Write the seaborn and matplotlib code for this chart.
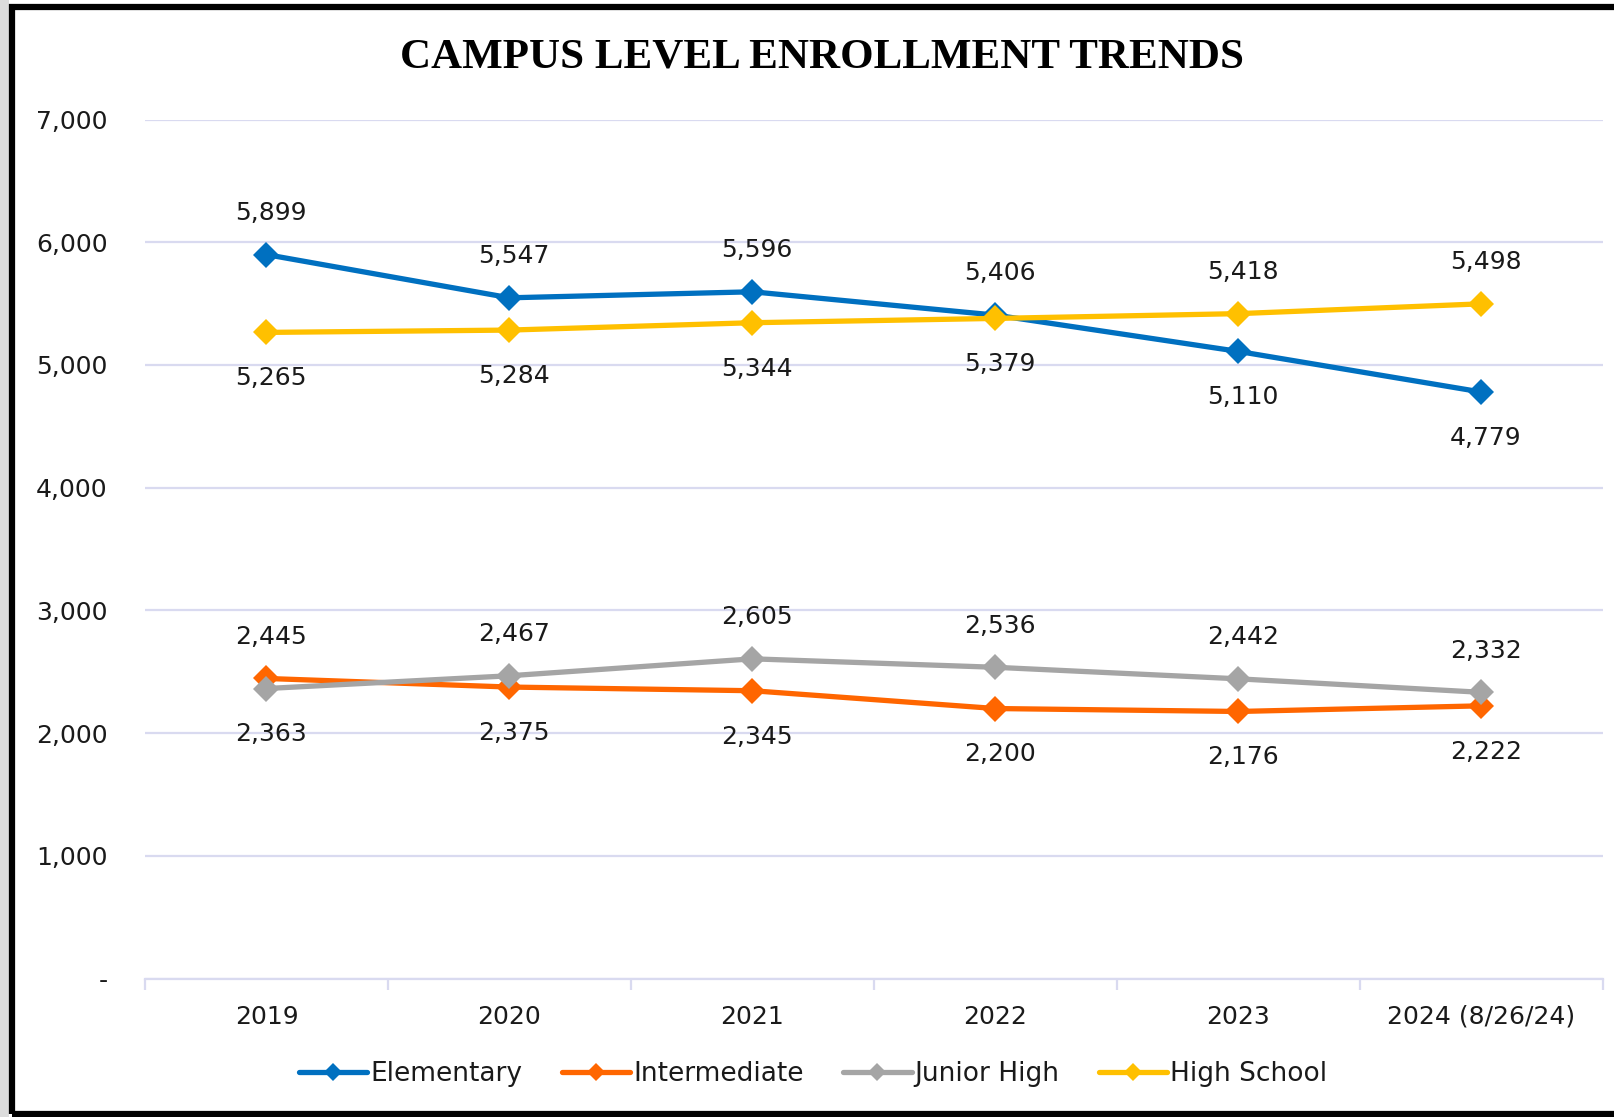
import matplotlib
matplotlib.use("Agg")
import matplotlib.pyplot as plt
import seaborn as sns
import pandas as pd
from matplotlib.patches import Rectangle
from matplotlib.ticker import FuncFormatter, FixedLocator

years = ["2019", "2020", "2021", "2022", "2023", "2024 (8/26/24)"]
series_names = ["Elementary", "Intermediate", "Junior High", "High School"]
elementary = [5899, 5547, 5596, 5406, 5110, 4779]
intermediate = [2445, 2375, 2345, 2200, 2176, 2222]
junior_high = [2363, 2467, 2605, 2536, 2442, 2332]
high_school = [5265, 5284, 5344, 5379, 5418, 5498]
colors = ["#0070C0", "#FF6600", "#A5A5A5", "#FFC000"]
# label placement: +1 above, -1 below
label_pos = {
    "Elementary": [1, 1, 1, 1, -1, -1],
    "Intermediate": [1, -1, -1, -1, -1, -1],
    "Junior High": [-1, 1, 1, 1, 1, 1],
    "High School": [-1, -1, -1, -1, 1, 1],
}

values = [elementary, intermediate, junior_high, high_school]
rows = []
for name, vals in zip(series_names, values):
    for i, (yr, v) in enumerate(zip(years, vals)):
        rows.append({"Year": yr, "idx": i, "Series": name, "Enrollment": v})
df = pd.DataFrame(rows)

sns.set_theme(style="white")
plt.rcParams["font.family"] = ["DejaVu Sans"]

W, H = 1615, 1117
fig = plt.figure(figsize=(W / 100, H / 100), dpi=100)
fig.patch.set_facecolor("white")
ax = fig.add_axes([145 / W, 1 - 978.5 / H, (1603 - 145) / W, (978.5 - 119.5) / H])

sns.lineplot(data=df, x="idx", y="Enrollment", hue="Series", hue_order=series_names,
             palette=colors, marker="D", markersize=13, markeredgewidth=0,
             linewidth=3.8, ax=ax, legend=False, zorder=3)

for name, vals, col in zip(series_names, values, colors):
    for i, v in enumerate(vals):
        p = label_pos[name][i]
        ax.annotate(f"{v:,}", (i, v), xytext=(3, 30 if p > 0 else -33),
                    textcoords="offset points", ha="center", va="center",
                    fontsize=18, color="#1a1a1a", zorder=5)

ax.set_xlim(-0.5, 5.5)
ax.set_ylim(0, 7000)
ax.set_yticks(range(0, 7001, 1000))
ax.yaxis.set_major_formatter(FuncFormatter(lambda v, p: "-" if v == 0 else f"{int(v):,}"))
ax.set_xticks(range(len(years)))
ax.set_xticklabels(years)
ax.xaxis.set_minor_locator(FixedLocator([i - 0.5 for i in range(len(years) + 1)]))
grid_c = "#D9DAF0"
ax.grid(axis="y", color=grid_c, linewidth=1.6, zorder=0)
ax.grid(axis="x", visible=False)
for s in ["top", "right", "left"]:
    ax.spines[s].set_visible(False)
ax.spines["bottom"].set_color(grid_c)
ax.spines["bottom"].set_linewidth(1.6)
ax.tick_params(axis="y", length=0, pad=27, labelsize=18, labelcolor="#1a1a1a")
ax.tick_params(axis="x", which="major", length=0, pad=19, labelsize=18, labelcolor="#1a1a1a")
ax.tick_params(axis="x", which="minor", bottom=True, length=8, width=1.6, color=grid_c)
ax.set_xlabel("")
ax.set_ylabel("")
ax.set_facecolor("white")

fig.text(822 / W, 1 - 58 / H, "CAMPUS LEVEL ENROLLMENT TRENDS", ha="center", va="center",
         fontsize=31, fontweight="bold", family=["Liberation Serif"], color="black")

handles = [plt.Line2D([], [], color=c, marker="D", markersize=9, markeredgewidth=0, linewidth=3.8)
           for c in colors]
fig.legend(handles, series_names, loc="center", bbox_to_anchor=(813 / W, 1 - 1074 / H),
           ncol=4, frameon=False, fontsize=19, handlelength=2.6, handletextpad=0.1,
           columnspacing=1.5, labelcolor="#1a1a1a")

fig.patches.append(Rectangle((0, 0), 9 / W, 1, transform=fig.transFigure,
                             facecolor="#dcdcdc", edgecolor="none", zorder=0))
fig.patches.append(Rectangle((12 / W, 1 - 1114 / H), 2.0, (1114 - 7) / H, transform=fig.transFigure,
                             facecolor="none", edgecolor="black", linewidth=4.5, zorder=10))

fig.savefig("out.png", dpi=100, facecolor="white")
